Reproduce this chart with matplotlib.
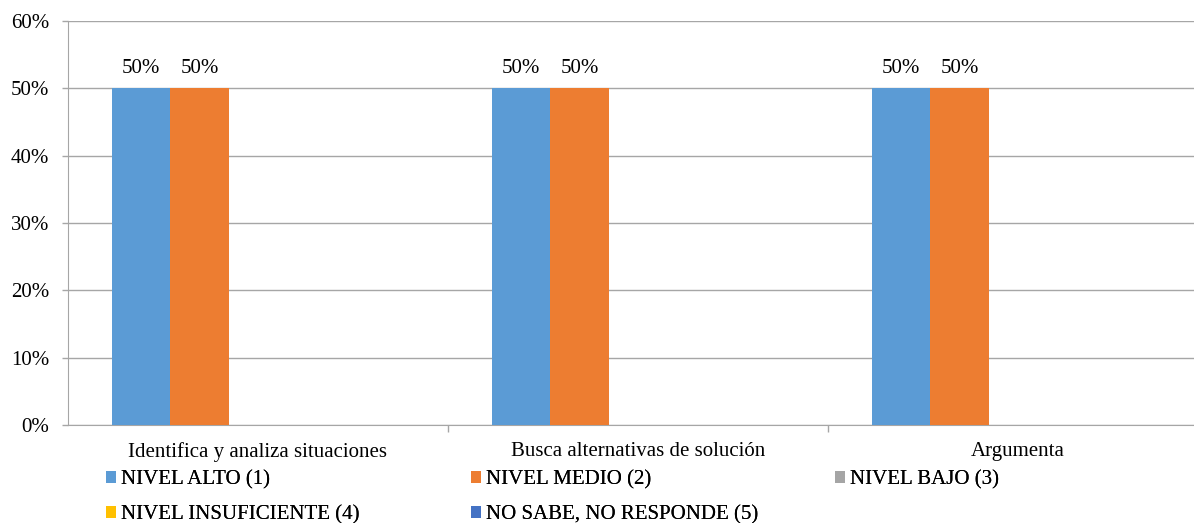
import numpy as np
import matplotlib.pyplot as plt
from matplotlib.ticker import PercentFormatter

plt.rcParams['font.family'] = ['Liberation Serif', 'DejaVu Serif']

categories = ["Identifica y analiza situaciones", "Busca alternativas de solución", "Argumenta"]
series = ["NIVEL ALTO (1)", "NIVEL MEDIO (2)", "NIVEL BAJO (3)",
          "NIVEL INSUFICIENTE (4)", "NO SABE, NO RESPONDE (5)"]
values = [
    [50, 50, 50],   # alto
    [50, 50, 50],   # medio
    [0, 0, 0],      # bajo
    [0, 0, 0],      # insuficiente
    [0, 0, 0],      # no sabe
]
colors = ["#5B9BD5", "#ED7D31", "#A5A5A5", "#FFC000", "#4472C4"]

W, H = 1194, 523
fig = plt.figure(figsize=(W / 100, H / 100), dpi=100)
ax = fig.add_axes([68 / W, (H - 425) / H, 1140 / W, 404 / H])

x = np.arange(len(categories))
bw = 1 / 6.5
fs = 15
gray = "#A6A6A6"

bars = []
for i, (name, vals, c) in enumerate(zip(series, values, colors)):
    b = ax.bar(x + (i - 2) * bw, vals, bw, color=c, label=name, zorder=3)
    bars.append(b)
    for rect, v in zip(b, vals):
        if v > 0:
            ax.annotate(f"{v:.0f}%", (rect.get_x() + rect.get_width() / 2, v),
                        xytext=(0, 7.5), textcoords="offset points",
                        ha="center", va="bottom", fontsize=fs)

ax.set_xlim(-0.5, len(categories) - 0.5)
ax.set_ylim(0, 60)
ax.set_yticks(np.arange(0, 61, 10))
ax.yaxis.set_major_formatter(PercentFormatter(decimals=0))
ax.yaxis.grid(True, color=gray, linewidth=1, zorder=0)
ax.set_axisbelow(True)

ax.set_xticks(x)
ax.set_xticklabels(categories)
ax.set_xticks([0.5, 1.5], minor=True)
ax.tick_params(axis="x", which="major", length=0, pad=12.5, labelsize=fs)
ax.tick_params(axis="x", which="minor", length=5, color=gray, width=1)
ax.tick_params(axis="y", length=4.5, color=gray, width=1, pad=9, labelsize=fs)

for s in ["top", "right"]:
    ax.spines[s].set_visible(False)
ax.spines["left"].set_color(gray)
ax.spines["bottom"].set_color(gray)

# legend split into three fixed-position columns
cols = [[0, 3], [1, 4], [2]]
xs = [106, 471, 835]
for idx, xpos in zip(cols, xs):
    leg = fig.legend([bars[k] for k in idx], [series[k] for k in idx],
                     loc="upper left", bbox_to_anchor=(xpos / W, 1 - 470 / H),
                     frameon=False, prop={"family": "Liberation Serif", "size": fs},
                     handlelength=0.5, handleheight=0.5, handletextpad=0.2,
                     labelspacing=0.78, borderpad=0, borderaxespad=0)
    fig.add_artist(leg)

fig.savefig("out.png", dpi=100)
